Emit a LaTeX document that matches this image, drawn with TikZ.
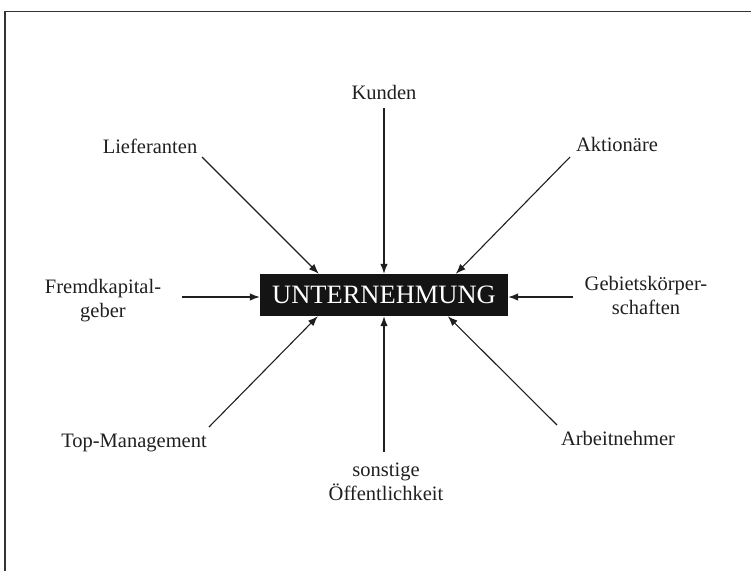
\documentclass[tikz,border=0pt]{standalone}
\usepackage{fontspec}
\setmainfont{Liberation Serif}
\usetikzlibrary{arrows.meta,calc}
\begin{document}
\begin{tikzpicture}[x=1pt,y=-1pt,
  lbl/.style={font=\fontsize{20.5}{24.5}\selectfont, inner sep=0pt, anchor=base, text=black!88},
  arr/.style={line width=1.1pt, draw=black!88, -{Latex[length=10pt,width=7.5pt]}},
  frameline/.style={line width=1.4pt, draw=black!80},
  mainbox/.style={fill=black!92, text=white, inner sep=0pt, minimum width=248pt, minimum height=42pt,
    font=\fontsize{26.5}{30}\selectfont}]
\useasboundingbox (0,0) rectangle (751,571);
\draw[frameline] (5,571) -- (5,11.5) -- (751,11.5);

\node[mainbox] (box) at (384,295) {UNTERNEHMUNG};

\node[lbl] (kunden) at (384,99) {Kunden};
\node[lbl] (lief) at (150,153) {Lieferanten};
\node[lbl] (akt) at (617,151) {Aktionäre};
\node[lbl] (fk) at (103,293) {\begin{tabular}[t]{@{}c@{}}Fremdkapital-\\geber\end{tabular}};
\node[lbl] (geb) at (646,290) {\begin{tabular}[t]{@{}c@{}}Gebietskörper-\\schaften\end{tabular}};
\node[lbl] (top) at (134,447) {Top-Management};
\node[lbl] (oeff) at (386,476) {\begin{tabular}[t]{@{}c@{}}sonstige\\Öffentlichkeit\end{tabular}};
\node[lbl] (arb) at (618,445) {Arbeitnehmer};

\coordinate (k0) at (384,108);
\coordinate (l0) at (202,157);
\coordinate (a0) at (570,157);
\coordinate (f0) at (182,297);
\coordinate (g0) at (573,297);
\coordinate (t0) at (209,427);
\coordinate (o0) at (384,452);
\coordinate (r0) at (557,425);

\draw[arr] (k0) -- (box.north);
\draw[arr] (l0) -- ($(box.north west)+(59,0)$);
\draw[arr] (a0) -- ($(box.north west)+(196,0)$);
\draw[arr] (f0) -- (f0 -| box.west);
\draw[arr] (g0) -- (g0 -| box.east);
\draw[arr] (t0) -- ($(box.south west)+(58,0)$);
\draw[arr] (o0) -- (box.south);
\draw[arr] (r0) -- ($(box.south west)+(188,0)$);
\end{tikzpicture}
\end{document}
